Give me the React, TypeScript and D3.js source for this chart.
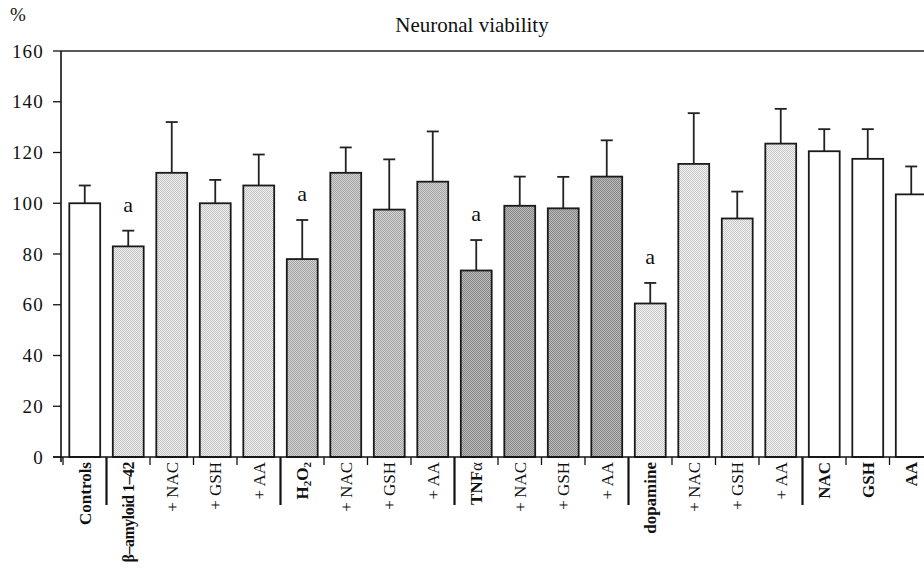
import React from 'react';
import * as d3 from 'd3';

const width = 924;
const height = 569;
const margin = { top: 51, left: 63, bottom: 112 };

const labels = ['Controls', 'β–amyloid 1–42', '+ NAC', '+ GSH', '+ AA', 'H2O2', '+ NAC', '+ GSH', '+ AA', 'TNFα', '+ NAC', '+ GSH', '+ AA', 'dopamine', '+ NAC', '+ GSH', '+ AA', 'NAC', 'GSH', 'AA'];
const means = [100, 83, 112, 100, 107, 78, 112, 97.5, 108.5, 73.5, 99, 98, 110.5, 60.5, 115.5, 94, 123.5, 120.5, 117.5, 103.5];
const errors = [7, 6.2, 20, 9.2, 12.2, 15.4, 10, 19.8, 19.8, 12, 11.5, 12.4, 14.3, 8.1, 20, 10.6, 13.7, 8.7, 11.7, 11];
const groups = ['none', 'amyloid', 'amyloid', 'amyloid', 'amyloid', 'h2o2', 'h2o2', 'h2o2', 'h2o2', 'tnf', 'tnf', 'tnf', 'tnf', 'dopa', 'dopa', 'dopa', 'dopa', 'none', 'none', 'none'];
const boldLabel = [true, true, false, false, false, true, false, false, false, true, false, false, false, true, false, false, false, true, true, true];
const markedA = [1, 5, 9, 13];
const groupEnds = [0, 4, 8, 12, 16];
const yTicks = [0, 20, 40, 60, 80, 100, 120, 140, 160];

// halftone look: light base + dark checker dots
const shades = {
  amyloid: ['#eeeeee', '#c4c4c4'],
  h2o2: ['#d4d4d4', '#a2a2a2'],
  tnf: ['#bcbcbc', '#858585'],
  dopa: ['#f2f2f2', '#c8c8c8'],
};

const serif = '"Liberation Serif", "Times New Roman", serif';

export default function App() {
  const idx = labels.map((d, i) => i);
  const step = 43.5;
  const x = d3
    .scaleBand<number>()
    .domain(idx)
    .range([margin.left, margin.left + step * labels.length])
    .paddingInner(0.29)
    .paddingOuter(0.145);
  const y = d3
    .scaleLinear()
    .domain([0, 160])
    .range([height - margin.bottom, margin.top]);
  const y0 = y(0);
  const axisX = 61;

  const renderLabel = (d: string, i: number) => {
    const cx = (x(i) as number) + x.bandwidth() / 2;
    const weight = boldLabel[i] ? 'bold' : 'normal';
    let content: React.ReactNode = d;
    if (d === 'H2O2') {
      content = (
        <>
          H<tspan fontSize={11} dy={3}>2</tspan>
          <tspan dy={-3}>O</tspan>
          <tspan fontSize={11} dy={3}>2</tspan>
        </>
      );
    } else if (d === 'TNFα') {
      content = (
        <>
          TNF<tspan fontWeight="normal">α</tspan>
        </>
      );
    }
    // the long amyloid label is squeezed a little so it stays on the page
    const long = d.length > 10;
    return (
      <text
        key={'l' + i}
        transform={`translate(${cx},${y0 + 5}) rotate(-90)`}
        textAnchor="end"
        dy="0.35em"
        fontFamily={serif}
        fontSize={long ? 16 : 17}
        letterSpacing={long ? -0.5 : 0}
        fontWeight={weight}
        fill="#111"
      >
        {content}
      </text>
    );
  };

  return (
    <div>
      <style>{`body{margin:0}`}</style>
      <svg width={width} height={height} style={{ display: 'block', background: '#fff' }}>
        <defs>
          {Object.entries(shades).map(([k, [light, dark]]) => (
            <pattern key={k} id={'pat-' + k} patternUnits="userSpaceOnUse" width={2} height={2}>
              <rect width={2} height={2} fill={light} />
              <rect width={1} height={1} fill={dark} />
              <rect x={1} y={1} width={1} height={1} fill={dark} />
            </pattern>
          ))}
        </defs>

        {/* title and unit */}
        <text x={472} y={32} textAnchor="middle" fontFamily={serif} fontSize={21} fill="#111">
          Neuronal viability
        </text>
        <text x={10} y={21} fontFamily={serif} fontSize={19} fill="#111">
          %
        </text>

        {/* y axis */}
        <line x1={axisX} x2={axisX} y1={y(160)} y2={y0 + 5} stroke="#111" strokeWidth={1.6} />
        <line x1={axisX} x2={width} y1={y(160)} y2={y(160)} stroke="#222" strokeWidth={1.4} />
        {yTicks.map(t => (
          <g key={t}>
            <line x1={axisX - 8} x2={axisX} y1={y(t)} y2={y(t)} stroke="#111" strokeWidth={1.3} />
            <text
              x={44}
              y={y(t)}
              dy="0.35em"
              textAnchor="end"
              fontFamily={serif}
              fontSize={19}
              letterSpacing={1.2}
              fill="#111"
            >
              {t}
            </text>
          </g>
        ))}

        {/* bars */}
        {means.map((m, i) => {
          const g = groups[i];
          const fill = g === 'none' ? '#fff' : `url(#pat-${g})`;
          const bx = x(i) as number;
          const cx = bx + x.bandwidth() / 2;
          const top = y(m + errors[i]);
          return (
            <g key={'b' + i}>
              <line x1={cx} x2={cx} y1={y(m)} y2={top} stroke="#222" strokeWidth={1.8} />
              <line x1={cx - 6} x2={cx + 6} y1={top} y2={top} stroke="#222" strokeWidth={1.8} />
              <rect
                x={bx}
                y={y(m)}
                width={x.bandwidth()}
                height={y0 - y(m)}
                fill={fill}
                stroke="#1a1a1a"
                strokeWidth={1.8}
              />
              {markedA.includes(i) && (
                <text x={cx} y={top - 19} textAnchor="middle" fontFamily={serif} fontSize={22} fill="#111">
                  a
                </text>
              )}
            </g>
          );
        })}

        {/* x axis */}
        <line x1={axisX - 8} x2={width} y1={y0} y2={y0} stroke="#111" strokeWidth={1.6} />
        {d3.range(labels.length + 1).map(k => {
          const bx = margin.left + k * step;
          const long = groupEnds.includes(k - 1);
          return (
            <line
              key={'t' + k}
              x1={bx}
              x2={bx}
              y1={y0}
              y2={y0 + (long ? 48 : 8)}
              stroke="#111"
              strokeWidth={long ? 2.2 : 1.3}
            />
          );
        })}
        {labels.map(renderLabel)}
      </svg>
    </div>
  );
}
